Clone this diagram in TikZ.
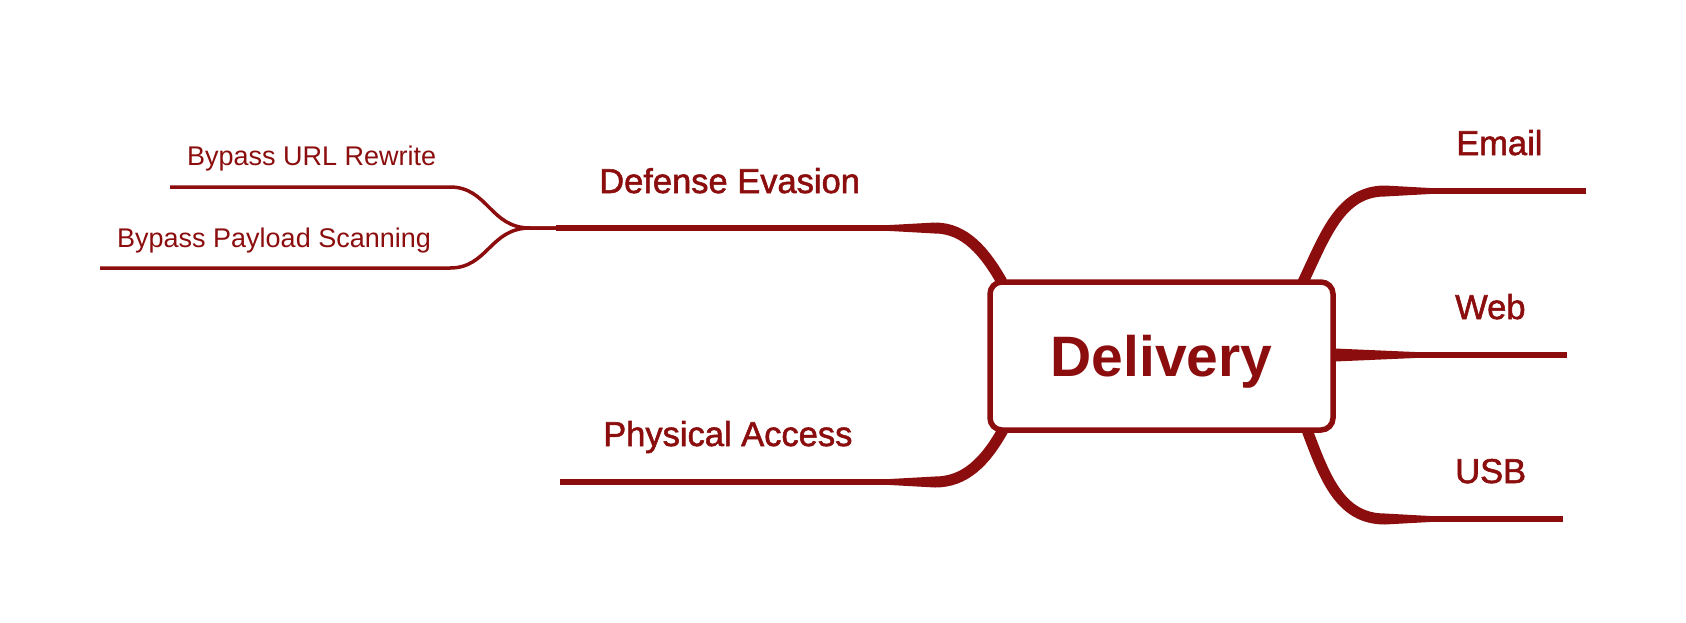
\documentclass[tikz,border=0pt]{standalone}
\usepackage{fontspec}
\setmainfont{Liberation Sans}
\newfontfamily\medfont[FakeBold=1.6]{Liberation Sans}
\definecolor{dred}{RGB}{139,13,13}
\tikzset{
  branch/.style={draw=dred, line width=6, line cap=butt},
  curvepart/.style={draw=dred, line width=11},
  twig/.style={draw=dred, line width=3.5},
  taper/.style={fill=dred, draw=none},
  blabel/.style={text=dred, font=\medfont\fontsize{34.5}{36}\selectfont, anchor=base west, inner sep=0},
  slabel/.style={text=dred, font=\fontsize{27}{29}\selectfont, anchor=base west, inner sep=0},
  central/.style={draw=dred, line width=5.5, rounded corners=12, fill=white, text=dred,
    font=\bfseries\fontsize{57}{60}\selectfont, minimum width=343, minimum height=148,
    inner sep=0, text height=40, text depth=0}
}
\begin{document}
\begin{tikzpicture}[x=1pt, y=-1pt]
\useasboundingbox (0,0) rectangle (1686,622);

% coordinates
\coordinate (de0) at (1002,282);
\coordinate (de1) at (935,228);
\coordinate (de2) at (890,228);
\coordinate (de3) at (556,228);
\coordinate (pa0) at (1003,430);
\coordinate (pa1) at (935,482);
\coordinate (pa2) at (890,482);
\coordinate (pa3) at (560,482);
\coordinate (em0) at (1303,282);
\coordinate (em1) at (1385,191);
\coordinate (em2) at (1430,191);
\coordinate (em3) at (1586,191);
\coordinate (wb0) at (1335,355);
\coordinate (wb2) at (1415,355);
\coordinate (wb3) at (1567,355);
\coordinate (us0) at (1307,430);
\coordinate (us1) at (1385,519);
\coordinate (us2) at (1430,519);
\coordinate (us3) at (1563,519);
\coordinate (jn) at (530,228);
\coordinate (ur0) at (450,187);
\coordinate (ur1) at (170,187);
\coordinate (py0) at (450,268);
\coordinate (py1) at (100,268);

% sub branches (twigs)
\draw[twig] (de3) -- (jn) .. controls (490,228) and (488,187) .. (ur0) -- (ur1);
\draw[twig] (de3) -- (jn) .. controls (490,228) and (488,268) .. (py0) -- (py1);

% Defense Evasion
\draw[curvepart] (de0) .. controls (985,252) and (965,228) .. (de1);
\fill[taper] ([yshift=-5.5]de1) -- ([yshift=-3]de2) -- ([yshift=3]de2) -- ([yshift=5.5]de1) -- cycle;
\draw[branch] (de2) -- (de3);

% Physical Access
\draw[curvepart] (pa0) .. controls (985,462) and (965,482) .. (pa1);
\fill[taper] ([yshift=-5.5]pa1) -- ([yshift=-3]pa2) -- ([yshift=3]pa2) -- ([yshift=5.5]pa1) -- cycle;
\draw[branch] (pa2) -- (pa3);

% Email
\draw[curvepart] (em0) .. controls (1325,236) and (1340,191) .. (em1);
\fill[taper] ([yshift=-5.5]em1) -- ([yshift=-3]em2) -- ([yshift=3]em2) -- ([yshift=5.5]em1) -- cycle;
\draw[branch] (em2) -- (em3);

% Web
\fill[taper] ([yshift=-6.5]wb0) -- ([yshift=-3]wb2) -- ([yshift=3]wb2) -- ([yshift=6.5]wb0) -- cycle;
\draw[branch] (wb2) -- (wb3);

% USB
\draw[curvepart] (us0) .. controls (1325,478) and (1340,519) .. (us1);
\fill[taper] ([yshift=-5.5]us1) -- ([yshift=-3]us2) -- ([yshift=3]us2) -- ([yshift=5.5]us1) -- cycle;
\draw[branch] (us2) -- (us3);

% central node
\node[central] (delivery) at (1161.5,356) {Delivery};

% labels
\node[blabel] (lde) at (599,193) {Defense Evasion};
\node[blabel] (lpa) at (603,446) {Physical Access};
\node[blabel] (lem) at (1456,155) {Email};
\node[blabel] (lwb) at (1455,319) {Web};
\node[blabel] (lus) at (1455,483) {USB};
\node[slabel] (lur) at (187,165) {Bypass URL Rewrite};
\node[slabel] (lpy) at (117,247) {Bypass Payload Scanning};
\end{tikzpicture}
\end{document}
